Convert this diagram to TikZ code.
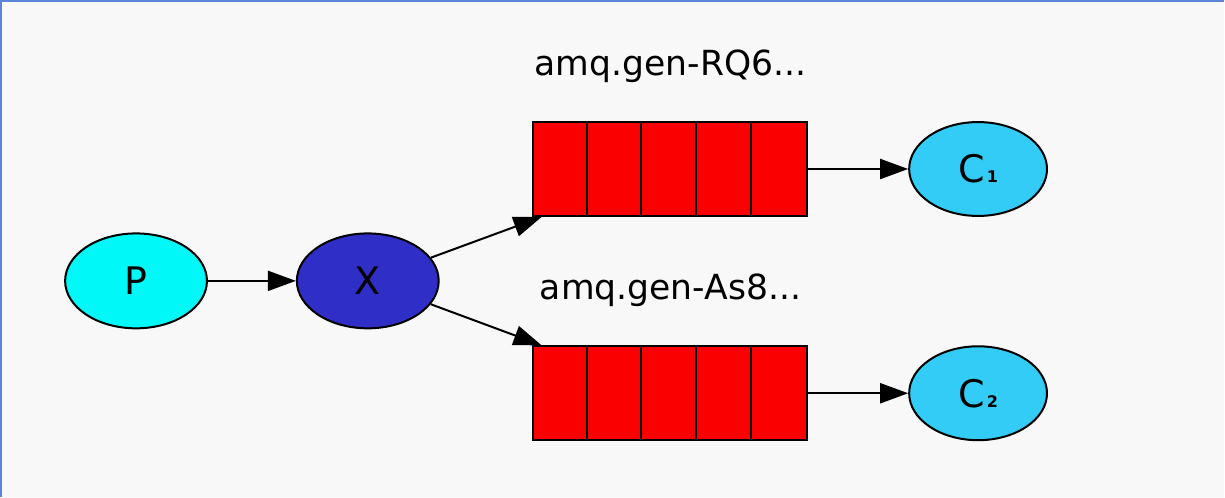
\documentclass[tikz,border=0pt]{standalone}
\usepackage{fontspec}
\setmainfont{DejaVu Sans}
\usetikzlibrary{positioning, shapes.geometric, arrows.meta}

\definecolor{bgcol}{HTML}{F8F8F8}
\definecolor{framecol}{HTML}{5B84D8}
\definecolor{prodcol}{HTML}{00F8F8}
\definecolor{exchcol}{HTML}{2F2FC8}
\definecolor{conscol}{HTML}{33CCF6}
\definecolor{queuecol}{HTML}{FA0000}

\newcommand{\cons}[1]{C\kern1pt{\fontsize{8pt}{9pt}\selectfont\bfseries #1}}

\begin{document}
\begin{tikzpicture}[x=0.5pt, y=0.5pt,
        every node/.style={font=\fontsize{19pt}{22pt}\selectfont},
        oval/.style={ellipse, draw=black, line width=1pt, inner sep=0pt,
            minimum width=71pt, minimum height=47.5pt},
        queuebox/.style={rectangle, draw=black, line width=1pt, fill=queuecol,
            minimum width=137.5pt, minimum height=47pt, inner sep=0pt},
        qlabel/.style={anchor=base, font=\fontsize{17.3pt}{20pt}\selectfont},
        link/.style={line width=1pt, -{Triangle[length=14pt, width=10pt]}}]
        % Frame
        \fill[bgcol] (0, 0) rectangle (1225, 497);
        \draw[framecol, line width=1.2pt] (1, 0) -- (1, 496) -- (1225, 496);

        % Blocks
        \node[oval, fill=prodcol] (p) at (136, 216) {P};
        \node[oval, fill=exchcol] (x) at (368, 216) {X};
        \node[queuebox] (q1) at (670.5, 328) {};
        \node[queuebox] (q2) at (670.5, 103.5) {};
        \foreach \i in {1,...,4} {
            \draw[line width=1pt] ([xshift=\i*27.5pt]q1.south west) -- ([xshift=\i*27.5pt]q1.north west);
            \draw[line width=1pt] ([xshift=\i*27.5pt]q2.south west) -- ([xshift=\i*27.5pt]q2.north west);
        }
        \node[qlabel] (l1) at (671, 422) {amq.gen-RQ6...};
        \node[qlabel] (l2) at (671, 197) {amq.gen-As8...};
        \node[oval, fill=conscol, minimum width=69pt, minimum height=47pt] (c1) at (979, 328) {\cons{1}};
        \node[oval, fill=conscol, minimum width=69pt, minimum height=47pt] (c2) at (979, 103.5) {\cons{2}};

        % Arrows
        \draw[link] (p) -- (x);
        \draw[link] (x) -- ([xshift=5pt]q1.south west);
        \draw[link] (x) -- ([xshift=5pt]q2.north west);
        \draw[link] (q1) -- (c1);
        \draw[link] (q2) -- (c2);
    \end{tikzpicture}
\end{document}
